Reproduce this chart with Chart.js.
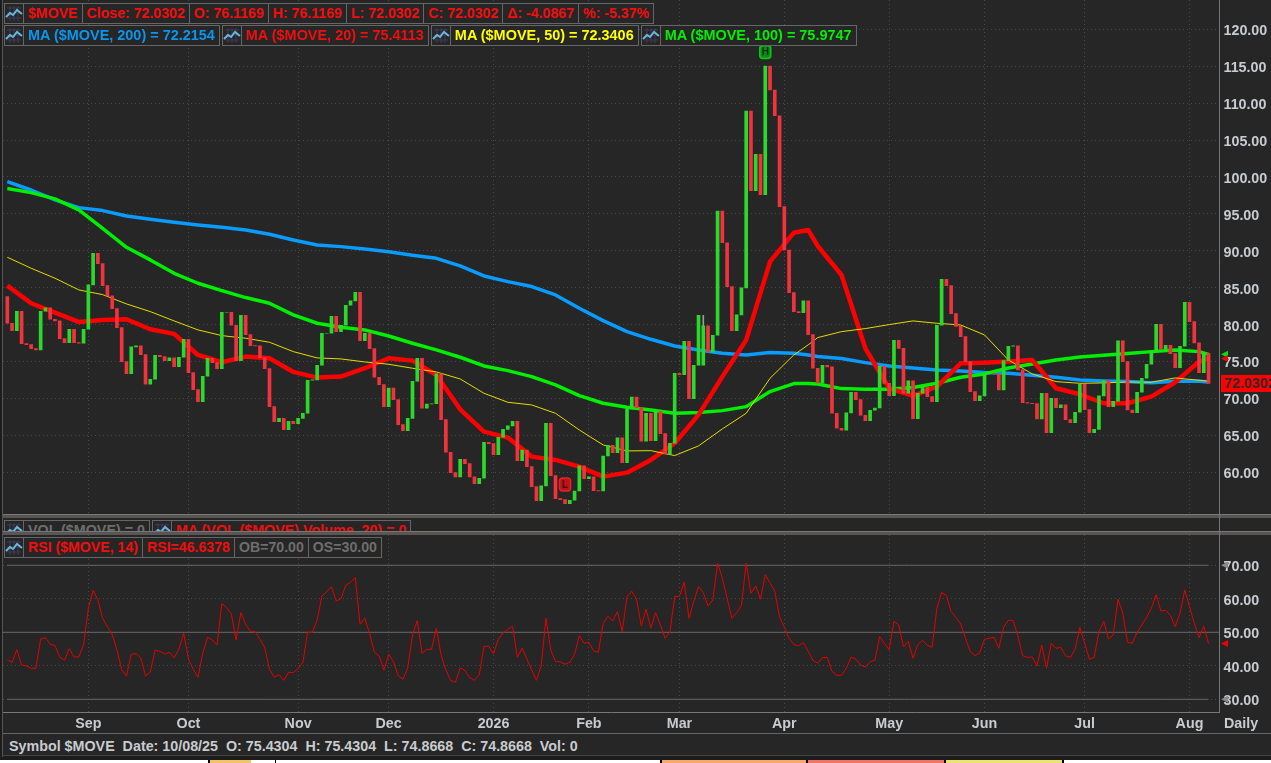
<!DOCTYPE html>
<html>
<head>
<meta charset="utf-8">
<title>$MOVE</title>
<script src="https://cdn.jsdelivr.net/npm/chart.js@4"></script>
<style>
html, body { margin: 0; padding: 0; width: 1271px; height: 763px; overflow: hidden; background: #262626; }
body { position: relative; font: bold 14.3px "Liberation Sans", Arial, sans-serif; }
canvas { position: absolute; left: 0; }
#priceChart { top: 0; }
#rsiChart { top: 535px; }
.sep { position: absolute; left: 0; width: 1271px; height: 4px; background: #5a5555; border-top: 1px solid #777; box-sizing: border-box; }
.row { position: absolute; left: 4px; display: flex; gap: 2px; height: 21px; }
.row.tight { font-size: 14.15px; }
.row.wide { font-size: 14.45px; }
.grp { display: flex; border: 1px solid #666; background: #262626; height: 19px; }
.cell { padding: 0 4px; line-height: 19px; border-left: 1px solid #666; white-space: nowrap; }
.ic { width: 18px; height: 19px; display: block; }
.red { color: #f00e0e; } .blue { color: #0a96f0; } .yellow { color: #ffff00; } .green { color: #00f000; } .grey { color: #6e6e6e; }
#volClip { position: absolute; left: 0; top: 518px; width: 1219px; height: 13px; overflow: hidden; }
#daily { position: absolute; left: 1224px; top: 715px; color: #c8ccd0; }
#status { position: absolute; left: 0; top: 733px; width: 1271px; height: 22px; box-sizing: border-box; border-top: 1px solid #666; color: #c8ccd0; white-space: pre; line-height: 24px; padding-left: 9px; }
#bottomLine { position: absolute; left: 0; top: 755px; width: 1271px; height: 5px; background: #1c1c1c; border-top: 1px solid #444; box-sizing: border-box; }
#leftLine { position: absolute; left: 0; top: 0; width: 3px; height: 757px; background: #1c1c1c; border-right: 1px solid #555; box-sizing: border-box; }
#axisStub { position: absolute; left: 1219px; top: 514px; width: 1px; height: 21px; background: #777; }
#strip { position: absolute; left: 0; top: 760px; width: 1271px; height: 3px; background: #fff; }
#strip div { position: absolute; top: 0; height: 3px; box-sizing: border-box; border-left: 2px solid #000; }
</style>
</head>
<body>
<canvas id="priceChart" width="1271" height="514"></canvas>
<canvas id="rsiChart" width="1271" height="198"></canvas>

<svg width="0" height="0" style="position:absolute">
  <symbol id="icon" viewBox="0 0 18 19">
    <path d="M2 4H16M2 9H16M2 14H16M5 2V17M9 2V17M13 2V17" stroke="#3c3c5c" stroke-width="1" fill="none"/>
    <path d="M1 13L5 9L8 11L12 6L17 10" stroke="#6cb6dc" stroke-width="2" fill="none"/>
  </symbol>
</svg>

<div class="row tight" style="top:3px">
  <div class="grp">
    <svg class="ic"><use href="#icon"/></svg>
    <div class="cell red">$MOVE</div>
    <div class="cell red">Close: 72.0302</div>
    <div class="cell red">O: 76.1169</div>
    <div class="cell red">H: 76.1169</div>
    <div class="cell red">L: 72.0302</div>
    <div class="cell red">C: 72.0302</div>
    <div class="cell red">Δ: -4.0867</div>
    <div class="cell red">%: -5.37%</div>
  </div>
</div>
<div class="row wide" style="top:25px">
  <div class="grp"><svg class="ic"><use href="#icon"/></svg><div class="cell blue">MA ($MOVE, 200) = 72.2154</div></div>
  <div class="grp"><svg class="ic"><use href="#icon"/></svg><div class="cell red">MA ($MOVE, 20) = 75.4113</div></div>
  <div class="grp"><svg class="ic"><use href="#icon"/></svg><div class="cell yellow">MA ($MOVE, 50) = 72.3406</div></div>
  <div class="grp"><svg class="ic"><use href="#icon"/></svg><div class="cell green">MA ($MOVE, 100) = 75.9747</div></div>
</div>

<div class="sep" style="top:514px"></div>
<div id="volClip">
  <div class="row" style="top:2px">
    <div class="grp"><svg class="ic"><use href="#icon"/></svg><div class="cell grey">VOL ($MOVE) = 0</div></div>
    <div class="grp"><svg class="ic"><use href="#icon"/></svg><div class="cell red">MA (VOL ($MOVE) Volume, 20) = 0</div></div>
  </div>
</div>
<div class="sep" style="top:531px"></div>
<div id="axisStub"></div>

<div class="row tight" style="top:537px">
  <div class="grp">
    <svg class="ic"><use href="#icon"/></svg>
    <div class="cell red">RSI ($MOVE, 14)</div>
    <div class="cell red">RSI=46.6378</div>
    <div class="cell grey">OB=70.00</div>
    <div class="cell grey">OS=30.00</div>
  </div>
</div>

<div id="daily">Daily</div>
<div id="status">Symbol $MOVE  Date: 10/08/25  O: 75.4304  H: 75.4304  L: 74.8668  C: 74.8668  Vol: 0</div>
<div id="bottomLine"></div>
<div id="leftLine"></div>
<div id="strip">
  <div style="left:208px;width:43px;background:#f2c468"></div>
  <div style="left:275px;width:1px;border-left-width:1px"></div>
  <div style="left:660px;width:148px;background:#f6a96c"></div>
  <div style="left:806px;width:140px;background:#f07468"></div>
  <div style="left:944px;width:120px;background:#ece46e"></div>
  <div style="left:1062px;width:2px;"></div>
</div>

<script>
const firstOpen = 83.79;
const closes = [
  80.18, 79.19, 81.81, 77.43, 77.29, 76.75, 76.57, 81.81, 82.26, 80.72,
  80.50, 78.10, 77.56, 79.37, 77.56, 77.50, 79.37, 85.37, 89.66, 88.26,
  85.28, 83.88, 82.17, 79.59, 74.99, 73.36, 76.98, 77.11, 75.94, 71.92,
  72.60, 75.85, 75.67, 75.12, 75.49, 74.31, 75.58, 78.01, 73.50, 71.20,
  69.57, 73.00, 75.44, 74.85, 74.04, 81.67, 81.67, 79.91, 75.12, 81.26,
  78.65, 77.16, 77.11, 75.53, 74.04, 68.89, 66.86, 67.31, 65.78, 66.91,
  66.59, 67.31, 67.99, 72.46, 72.51, 74.49, 78.83, 78.83, 81.13, 79.05,
  79.91, 82.62, 83.21, 84.38, 77.83, 78.83, 76.75, 72.87, 71.87, 68.89,
  71.42, 69.84, 66.46, 65.64, 67.31, 72.33, 75.44, 68.67, 69.25, 69.28,
  73.32, 67.13, 62.71, 59.95, 59.37, 61.76, 61.17, 59.37, 58.47, 59.19,
  64.06, 63.88, 62.39, 64.74, 65.82, 66.28, 66.91, 61.58, 63.02, 60.77,
  58.06, 56.16, 58.15, 66.64, 59.55, 56.43, 56.30, 55.76, 56.21, 57.47,
  60.86, 59.14, 59.37, 57.52, 57.47, 62.21, 63.66, 62.66, 64.65, 61.31,
  68.58, 70.20, 68.76, 64.20, 67.99, 64.29, 68.22, 65.24, 62.44, 63.93,
  73.41, 73.23, 77.74, 69.98, 74.49, 81.26, 79.82, 76.25, 78.56, 95.39,
  91.09, 85.15, 79.19, 81.31, 84.97, 108.93, 98.14, 103.07, 97.60, 115.02,
  111.77, 108.29, 95.97, 90.10, 84.33, 81.76, 81.63, 83.21, 78.65, 74.09,
  72.10, 74.49, 74.27, 67.99, 65.96, 65.69, 68.04, 70.84, 69.84, 67.72,
  67.00, 68.40, 68.71, 74.36, 72.05, 70.38, 77.88, 76.79, 70.70, 72.37,
  67.27, 70.70, 71.51, 70.25, 69.57, 79.91, 86.14, 85.28, 81.49, 79.77,
  78.37, 74.99, 70.93, 69.71, 70.34, 73.36, 73.36, 73.32, 71.15, 75.12,
  77.07, 77.11, 73.86, 69.44, 69.35, 69.30, 67.22, 70.70, 65.37, 70.02,
  68.76, 69.12, 67.13, 66.73, 68.13, 71.92, 68.49, 65.37, 65.82, 70.34,
  72.42, 68.89, 69.62, 77.79, 74.99, 68.44, 68.08, 70.84, 72.73, 74.63,
  76.39, 80.05, 76.70, 77.20, 76.07, 74.18, 77.07, 83.02, 80.41, 77.52,
  73.50, 76.1169, 72.0302
];
// bar 146 opens away from the previous close and shows a thin grey range above its body
const gapOpenBar = 146;
const gapOpen = 74.49;
const wickRange = [79.82, 81.26];

const maBars = [
  0, 5, 10, 15, 20, 25, 30, 35, 40, 45,
  50, 55, 60, 65, 70, 75, 80, 85, 90, 95,
  100, 105, 110, 115, 120, 125, 130, 135, 140, 145,
  150, 155, 160, 165, 168, 170, 175, 180, 185, 190,
  195, 200, 205, 210, 215, 220, 225, 230, 235, 240,
  245, 250, 252
];
const ma20 = [
  85.28, 82.89, 81.63, 80.36, 80.63, 80.72, 79.37, 78.74, 75.89, 74.90,
  75.67, 75.44, 73.59, 72.82, 72.96, 74.09, 75.44, 75.12, 73.18, 68.53,
  65.51, 64.70, 62.12, 61.67, 60.77, 59.41, 59.95, 61.67, 63.93, 67.77,
  72.96, 77.92, 88.53, 92.45, 92.82, 90.65, 86.73, 76.79, 71.38, 70.34,
  71.60, 74.76, 74.85, 74.99, 75.21, 71.38, 70.56, 69.35, 69.35, 70.25,
  72.19, 74.99, 75.4113
];
const ma50 = [
  89.12, 87.63, 86.28, 84.70, 84.06, 82.80, 81.76, 80.50, 79.28, 78.51,
  78.15, 77.61, 76.34, 75.49, 75.35, 74.94, 74.63, 74.09, 73.59, 72.64,
  70.70, 69.48, 69.12, 67.99, 65.73, 63.70, 62.89, 62.93, 62.26, 63.57,
  65.87, 67.99, 72.73, 75.89, 77.25, 78.24, 79.05, 79.46, 80.00, 80.50,
  80.18, 79.95, 78.60, 75.21, 73.32, 72.28, 72.05, 72.10, 72.23, 72.19,
  72.78, 72.46, 72.3406
];
const ma100 = [
  98.42, 97.87, 97.02, 95.53, 93.04, 90.47, 88.76, 86.95, 85.60, 84.60,
  83.66, 82.89, 81.31, 80.18, 79.64, 79.28, 78.46, 77.47, 76.57, 75.58,
  74.40, 73.77, 72.96, 71.83, 70.38, 69.35, 68.80, 68.44, 67.99, 68.08,
  68.35, 68.89, 70.93, 72.01, 72.01, 71.96, 71.33, 71.24, 71.24, 71.47,
  72.05, 72.87, 73.32, 74.13, 74.67, 75.21, 75.62, 75.85, 76.07, 76.34,
  76.57, 76.34, 75.9747
];
const ma200 = [
  99.36, 98.23, 96.88, 95.84, 95.44, 94.71, 94.26, 93.86, 93.49, 93.18,
  92.82, 92.23, 91.46, 90.79, 90.56, 90.24, 89.88, 89.39, 88.98, 87.95,
  86.59, 85.82, 85.15, 84.02, 82.21, 80.54, 79.05, 78.01, 77.11, 76.57,
  76.12, 75.89, 76.21, 76.12, 75.89, 75.67, 75.40, 74.85, 74.40, 74.13,
  73.86, 73.72, 73.50, 73.41, 73.14, 72.87, 72.51, 72.37, 72.28, 72.14,
  72.33, 72.33, 72.2154
];
const rsi = [
  41.84, 41.04, 44.83, 40.25, 39.95, 39.25, 39.25, 48.01, 48.41, 46.42,
  46.02, 42.64, 41.64, 45.12, 42.64, 42.64, 46.22, 57.06, 62.54, 59.65,
  54.18, 51.69, 49.40, 44.73, 38.76, 36.97, 43.43, 43.63, 42.34, 36.97,
  38.16, 44.63, 44.33, 43.53, 44.03, 42.34, 45.02, 49.70, 42.04, 38.96,
  36.57, 43.73, 48.51, 47.71, 46.22, 58.56, 57.36, 55.47, 47.71, 55.87,
  52.39, 50.30, 50.20, 47.91, 45.52, 38.96, 36.57, 37.36, 35.67, 38.06,
  37.96, 39.15, 40.95, 50.00, 50.00, 53.68, 60.85, 62.14, 63.63, 59.35,
  60.05, 64.03, 64.93, 66.32, 52.39, 54.18, 49.70, 44.03, 42.94, 38.66,
  43.43, 41.24, 37.06, 35.97, 39.35, 49.30, 53.48,
  43.73, 44.93, 44.93, 51.19, 43.23, 38.76, 35.67, 35.07, 39.35, 38.66,
  36.47, 35.67, 37.26, 45.82, 45.82, 43.53, 47.91, 49.80, 50.90, 51.79,
  42.54, 45.22, 42.04, 38.76, 35.67, 40.05, 54.18, 44.73, 41.34, 41.14,
  40.45, 41.04, 43.43, 49.00, 46.72, 47.01, 44.43, 44.03, 52.69, 54.78,
  53.38, 56.17, 50.20, 60.65, 62.24, 59.95, 51.89, 56.87, 51.29, 55.87,
  52.19, 48.21, 50.10, 60.65, 60.75, 64.93, 54.18, 59.15, 63.63, 61.84,
  57.86, 59.65, 70.60, 66.12, 60.15, 54.18, 55.87, 57.96, 70.60, 61.64,
  63.83, 59.85, 67.21, 64.73, 62.34, 54.48, 51.49, 48.21, 46.32, 46.02,
  46.92, 44.33, 41.64, 40.75, 42.44, 42.54, 38.36, 37.16,
  37.16, 39.25, 42.54, 42.04, 40.25, 39.65, 41.24, 41.64, 48.71, 46.72,
  44.73, 53.28, 52.19, 45.62, 47.31, 42.24, 46.32, 47.61, 46.12, 45.52,
  57.16, 61.94, 60.95, 56.17, 54.38, 52.49, 48.21, 44.33, 43.03, 43.93,
  47.91, 48.21, 48.51, 45.22, 51.49, 53.58, 53.58, 48.91, 43.03, 42.54,
  42.64, 39.95, 46.22, 39.25, 46.72, 45.22, 45.52, 42.94, 42.54, 44.93,
  51.49, 46.72, 41.94, 42.54, 50.20, 53.28, 48.01, 49.20, 59.85, 55.67,
  47.01, 46.72, 50.00, 52.19, 54.48, 57.16, 61.24, 56.37, 56.57, 54.98,
  51.69, 55.67, 62.64, 57.66, 52.69, 48.41, 51.79, 46.6378
];
const monthBars = [17, 38, 61, 80, 102, 122, 141, 163, 185, 205, 226, 248];
const monthLabels = ['Sep', 'Oct', 'Nov', 'Dec', '2026', 'Feb', 'Mar', 'Apr', 'May', 'Jun', 'Jul', 'Aug'];
const priceTicks = [60, 65, 70, 75, 80, 85, 90, 95, 100, 105, 110, 115, 120];
const rsiTicks = [30, 40, 50, 60, 70];
const rsiLevels = [70, 30];
const rsiMid = 50;
const highBar = 159;
const lowBar = 117;

const xMin = -0.902, xMax = 254.29;
const UP = '#2bd92b', DOWN = '#f2323c', DOT = '#474747', AXIS = '#777', LABEL = '#c8ccd0';
const labelFont = { family: '"Liberation Sans", Arial, sans-serif', size: 14.3, weight: 'bold' };

const opens = closes.map((c, i) => i === 0 ? firstOpen : i === gapOpenBar ? gapOpen : closes[i - 1]);
const barPoints = closes.map((c, i) => ({ x: i, y: [opens[i], c] }));
const barColors = closes.map((c, i) => c >= opens[i] ? UP : DOWN);
const maPoints = vals => vals.map((v, i) => ({ x: maBars[i], y: v }));
const rsiPoints = rsi.map((v, i) => ({ x: i, y: v }));

function lineSet(label, data, color, width, order) {
    return { type: 'line', label, data, borderColor: color, borderWidth: width, pointRadius: 0, tension: 0, order, borderJoinStyle: 'round', clip: false };
}

// stop the axes asking for room around their first and last labels
function noMargins(s) {
    s.paddingLeft = s.paddingRight = s.paddingTop = s.paddingBottom = 0;
}

function xScale(withLabels) {
    return {
        type: 'linear', min: xMin, max: xMax, offset: false,
        afterBuildTicks: s => { s.ticks = monthBars.map(v => ({ value: v })); },
        afterFit: s => { s.height = withLabels ? 20.7 : 0; noMargins(s); },
        grid: { color: DOT, drawTicks: false, offset: false },
        border: { display: withLabels, color: AXIS, dash: [1, 3] },
        ticks: {
            display: withLabels, autoSkip: false, maxRotation: 0, padding: 3,
            color: LABEL, font: labelFont,
            callback: v => monthLabels[monthBars.indexOf(v)]
        }
    };
}

function yScale(min, max, tickVals) {
    return {
        position: 'right', min, max,
        afterBuildTicks: s => { s.ticks = tickVals.map(v => ({ value: v })); },
        afterFit: s => { s.width = 51.5; noMargins(s); },
        grid: { color: DOT, drawTicks: false },
        border: { color: AXIS, dash: [1, 3] },
        ticks: { padding: 4, labelOffset: 2, color: LABEL, font: labelFont, callback: v => v.toFixed(2) }
    };
}

function triangle(ctx, x, y, color) {
    ctx.fillStyle = color;
    ctx.beginPath();
    ctx.moveTo(x, y);
    ctx.lineTo(x + 7, y - 3.5);
    ctx.lineTo(x + 7, y + 3.5);
    ctx.closePath();
    ctx.fill();
}

function badge(ctx, cx, cy, text, fill, edge, ink) {
    ctx.fillStyle = fill;
    ctx.strokeStyle = edge;
    ctx.lineWidth = 1.5;
    ctx.beginPath();
    ctx.roundRect(cx - 5.5, cy - 6.5, 11, 13, 3);
    ctx.fill();
    ctx.stroke();
    ctx.fillStyle = ink;
    ctx.font = 'bold 10px "Liberation Sans"';
    ctx.textAlign = 'center';
    ctx.textBaseline = 'middle';
    ctx.fillText(text, cx, cy + 0.5);
}

const priceMarks = {
    id: 'priceMarks',
    afterDraw(chart) {
        const { ctx, scales: { x, y }, chartArea } = chart;
        const last = closes[closes.length - 1];
        ctx.save();
        const edge = chartArea.right + 1.5;
        triangle(ctx, edge, y.getPixelForValue(ma100[ma100.length - 1]), '#00e000');
        triangle(ctx, edge, y.getPixelForValue(ma20[ma20.length - 1]), '#e01010');
        const py = y.getPixelForValue(last);
        ctx.fillStyle = '#ff0000';
        ctx.fillRect(edge, py - 8.5, 60, 17);
        ctx.fillStyle = '#2a2a2a';
        ctx.font = 'bold 14.3px "Liberation Sans"';
        ctx.textAlign = 'left';
        ctx.textBaseline = 'middle';
        ctx.fillText(last.toFixed(4), edge + 3.5, py + 0.5);
        badge(ctx, x.getPixelForValue(highBar), y.getPixelForValue(closes[highBar]) - 14, 'H', '#0a8a2a', '#00d000', '#002a00');
        badge(ctx, x.getPixelForValue(lowBar), y.getPixelForValue(closes[lowBar]) - 19, 'L', '#c01018', '#e8202a', '#3a0000');
        ctx.restore();
    }
};

const rsiMarks = {
    id: 'rsiMarks',
    afterDraw(chart) {
        const { ctx, scales: { y }, chartArea } = chart;
        ctx.save();
        const edge = chartArea.right + 1.5;
        rsiLevels.forEach(v => triangle(ctx, edge, y.getPixelForValue(v), '#8a8a8a'));
        triangle(ctx, edge, y.getPixelForValue(rsi[rsi.length - 1]), '#f00000');
        ctx.restore();
    }
};

const commonOptions = {
    responsive: false,
    animation: false,
    events: [],
    layout: { padding: { left: 3, right: 0, top: 0, bottom: 0 } },
    plugins: { legend: { display: false }, tooltip: { enabled: false } }
};

new Chart(document.getElementById('priceChart').getContext('2d'), {
    type: 'bar',
    data: {
        datasets: [
            { label: 'range', data: [{ x: gapOpenBar, y: wickRange }], backgroundColor: '#9a9a9a', barThickness: 1, grouped: false, order: 1 },
            { label: '$MOVE', data: barPoints, backgroundColor: barColors, barThickness: 3, grouped: false, order: 0 },
            lineSet('MA 50', maPoints(ma50), '#e6dc00', 1, 2),
            lineSet('MA 20', maPoints(ma20), '#ff0000', 4.5, 3),
            lineSet('MA 100', maPoints(ma100), '#00ee00', 3.5, 4),
            lineSet('MA 200', maPoints(ma200), '#0a9bff', 3.5, 5)
        ]
    },
    options: {
        ...commonOptions,
        scales: { x: xScale(false), y: yScale(54.35, 123.96, priceTicks) }
    },
    plugins: [priceMarks]
});

new Chart(document.getElementById('rsiChart').getContext('2d'), {
    type: 'line',
    data: {
        datasets: [
            lineSet('RSI', rsiPoints, '#e60000', 1, 0),
            ...rsiLevels.map(v => lineSet('level', [{ x: 0, y: v }, { x: closes.length - 1, y: v }], '#666', 1, 2)),
            lineSet('mid', [{ x: xMin, y: rsiMid }, { x: xMax, y: rsiMid }], '#666', 1, 1)
        ]
    },
    options: {
        ...commonOptions,
        scales: { x: xScale(true), y: yScale(26.12, 79.04, rsiTicks) }
    },
    plugins: [rsiMarks]
});
</script>
</body>
</html>
